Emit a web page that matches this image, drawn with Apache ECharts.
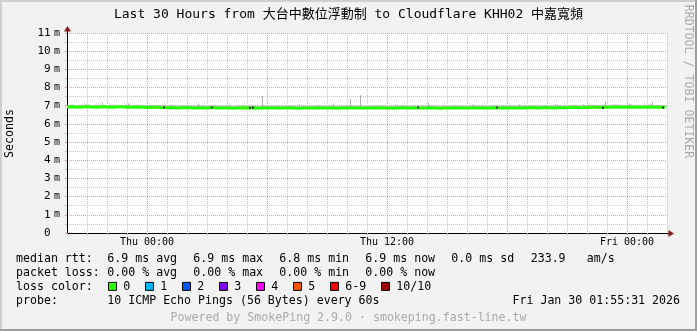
<!DOCTYPE html>
<html><head><meta charset="utf-8">
<script src="https://cdn.jsdelivr.net/npm/echarts@6/dist/echarts.min.js"></script>
<style>html,body{margin:0;padding:0;background:#f2f2f2}#c{width:697px;height:331px}</style>
</head><body><div id="c"></div>
<script>
// ---------- data ----------
const titleText = 'Last 30 Hours from 大台中數位浮動制 to Cloudflare KHH02 中嘉寬頻';
const yAxisTitle = 'Seconds';
const sideText = 'RRDTOOL / TOBI OETIKER';
const xTickLabels = { 4: 'Thu 00:00', 16: 'Thu 12:00', 28: 'Fri 00:00' };
const majorHours = [4, 10, 16, 22, 28];
const spanHours = 29.9; // data covers Wed 20:00 .. Fri 01:55

// median RTT (ms), one value per 15-minute bucket
const median = [
  6.93,6.94,6.92,6.93,6.95,6.93,6.92,6.94,6.93,6.92,
  6.93,6.94,6.92,6.91,6.93,6.92,6.90,6.92,6.91,6.90,
  6.89,6.90,6.88,6.89,6.90,6.88,6.87,6.89,6.88,6.90,
  6.88,6.87,6.89,6.86,6.88,6.89,6.87,6.88,6.86,6.88,
  6.89,6.87,6.88,6.87,6.89,6.88,6.86,6.88,6.87,6.88,
  6.89,6.87,6.88,6.88,6.86,6.88,6.89,6.87,6.88,6.87,
  6.88,6.87,6.89,6.88,6.87,6.86,6.88,6.89,6.87,6.88,
  6.88,6.87,6.89,6.88,6.86,6.88,6.87,6.89,6.88,6.87,
  6.88,6.89,6.87,6.88,6.88,6.89,6.87,6.88,6.89,6.88,
  6.89,6.88,6.90,6.89,6.88,6.90,6.89,6.88,6.90,6.89,
  6.90,6.91,6.89,6.90,6.92,6.91,6.90,6.92,6.91,6.93,
  6.92,6.91,6.93,6.92,6.91,6.92,6.93,6.91,6.92,6.91
];
// upper edge of the smoke (ms)
const smokeTop = [
  7.04,7.06,7.03,7.05,7.07,7.04,7.06,7.05,7.03,7.06,
  7.05,7.04,7.07,7.03,7.05,7.04,7.02,7.05,7.03,7.04,
  7.01,7.03,7.00,7.02,7.04,7.01,6.99,7.02,7.01,7.03,
  7.00,7.01,7.03,6.99,7.01,7.02,7.00,7.01,6.99,7.02,
  7.03,7.00,7.01,7.00,7.03,7.01,6.99,7.02,7.00,7.01,
  7.02,7.00,7.01,7.02,6.99,7.01,7.03,7.00,7.01,7.00,
  7.01,7.02,7.03,7.01,7.00,6.99,7.02,7.03,7.00,7.01,
  7.02,7.00,7.03,7.02,6.99,7.01,7.00,7.03,7.01,7.00,
  7.01,7.03,7.00,7.02,7.01,7.03,7.00,7.02,7.03,7.01,
  7.03,7.02,7.04,7.03,7.01,7.04,7.03,7.02,7.05,7.03,
  7.04,7.05,7.03,7.04,7.06,7.05,7.04,7.06,7.05,7.07,
  7.06,7.04,7.07,7.05,7.04,7.06,7.07,7.04,7.05,7.03
];
// isolated smoke spikes: [hour since start, max ms]
const spikes = [
  [1.73,7.17],[3.05,7.13],[5.2,7.08],[6.55,7.10],[8.1,7.07],[9.74,7.53],
  [11.6,7.08],[13.3,7.11],[14.15,7.38],[14.63,7.58],[16.4,7.07],[18.05,7.15],
  [20.3,7.08],[22.6,7.07],[24.4,7.10],[25.8,7.08],[26.9,7.22],[28.1,7.09],[29.23,7.20]
];
const blackDots = [[4.85,6.90],[7.24,6.90],[9.15,6.89],[9.3,6.90],[17.55,6.90],[21.5,6.90],[26.8,6.89],[29.8,6.90]];

const medianStats = ['6.9 ms avg', '6.9 ms max', '6.8 ms min', '6.9 ms now', '0.0 ms sd'];
const rateValue = '233.9';
const rateUnit = 'am/s';
const lossStats = ['0.00 % avg', '0.00 % max', '0.00 % min', '0.00 % now'];
const lossLabels = ['0', '1', '2', '3', '4', '5', '6-9', '10/10'];
const lossColors = ['#26ff00', '#00b8ff', '#0059ff', '#7e00ff', '#ff00ff', '#ff5500', '#ff0000', '#a10000'];
const probeText = '10 ICMP Echo Pings (56 Bytes) every 60s';
const stampText = 'Fri Jan 30 01:55:31 2026';
const poweredText = 'Powered by SmokePing 2.9.0 · smokeping.fast-line.tw';

// ---------- layout / style ----------
const W = 697, H = 331;
const GL = 67, GT = 33, GR = 667, GB = 233;
const MONO = '"DejaVu Sans Mono", "Noto Sans CJK TC", monospace';
const GRID_C = '#c6c6c6';
const MGRID_C = '#d4a0a0';
const TICK_C = '#b4b4b4';
const MTICK_C = '#d09a9a';

const step = spanHours / (median.length - 1);
const times = median.map((_, i) => i * step);
const lineData = median.map((v, i) => [times[i], v]);
const smokeData = median.map((v, i) => [times[i], v, smokeTop[i]]);

const chart = echarts.init(document.getElementById('c'), null, { renderer: 'canvas' });

const xSplitColors = [0,1,2,3,4,5].map(k => k === 4 ? MGRID_C : GRID_C);

function txt(x, y, text, opt) {
  return Object.assign({
    type: 'text', x, y, z: 100,
    style: Object.assign({ text, fontFamily: MONO, fontSize: 11.6, fill: '#000', align: 'left', verticalAlign: 'middle' }, opt || {})
  });
}

const graphics = [];
// frame shading
graphics.push({ type: 'rect', shape: { x: 0, y: 0, width: W, height: 2 }, style: { fill: '#cfcfcf' }, z: 100 });
graphics.push({ type: 'rect', shape: { x: 0, y: 0, width: 2, height: H }, style: { fill: '#cfcfcf' }, z: 100 });
graphics.push({ type: 'rect', shape: { x: 0, y: H - 2, width: W, height: 2 }, style: { fill: '#9e9e9e' }, z: 100 });
graphics.push({ type: 'rect', shape: { x: W - 2, y: 0, width: 2, height: H }, style: { fill: '#9e9e9e' }, z: 100 });
// title
graphics.push(txt(348.5, 15, titleText, { fontSize: 13, align: 'center' }));
// y title
graphics.push(Object.assign(txt(10, 133.5, yAxisTitle, { align: 'center' }), { rotation: Math.PI / 2 }));
// side watermark
graphics.push(Object.assign(txt(688, 81.5, sideText, { align: 'center', fill: '#a9a9a9' }), { rotation: -Math.PI / 2 }));
// axis arrows
graphics.push({ type: 'line', shape: { x1: GR, y1: GB + 0.5, x2: GR + 3, y2: GB + 0.5 }, style: { stroke: '#000', lineWidth: 1 }, z: 100 });
graphics.push({ type: 'polygon', shape: { points: [[GR + 1.5, GB - 3], [GR + 7, GB + 0.5], [GR + 1.5, GB + 4]] }, style: { fill: '#8b1a1a' }, z: 100 });
graphics.push({ type: 'line', shape: { x1: GL + 0.5, y1: GT, x2: GL + 0.5, y2: GT - 3 }, style: { stroke: '#000', lineWidth: 1 }, z: 100 });
graphics.push({ type: 'polygon', shape: { points: [[GL - 3, GT - 1.5], [GL + 0.5, GT - 7], [GL + 4, GT - 1.5]] }, style: { fill: '#8b1a1a' }, z: 100 });

// legend
const L1 = 259.3, L2 = 273.1, L3 = 286.9, L4 = 300.7, L5 = 317.7;
const colX = 107.3, colStride = 86;
graphics.push(txt(16, L1, 'median rtt:'));
medianStats.forEach((s, k) => graphics.push(txt(colX + colStride * k, L1, s)));
graphics.push(txt(530.7, L1, rateValue));
graphics.push(txt(586.7, L1, rateUnit));
graphics.push(txt(16, L2, 'packet loss:'));
lossStats.forEach((s, k) => graphics.push(txt(colX + colStride * k, L2, s)));
graphics.push(txt(16, L3, 'loss color:'));
let bx = 108.3;
lossLabels.forEach((lab, k) => {
  graphics.push({ type: 'rect', shape: { x: Math.round(bx) + 0.5, y: L3 - 4.5, width: 8, height: 8 }, style: { fill: lossColors[k], stroke: '#000', lineWidth: 1 }, z: 100 });
  graphics.push(txt(bx + 15, L3, lab));
  bx += 30 + 7 * lab.length;
});
graphics.push(txt(16, L4, 'probe:'));
graphics.push(txt(colX, L4, probeText));
graphics.push(txt(680, L4, stampText, { align: 'right' }));
graphics.push(txt(348.5, L5, poweredText, { align: 'center', fill: '#aaaaaa' }));

const option = {
  animation: false,
  backgroundColor: '#f2f2f2',
  grid: { left: GL, top: GT, width: GR - GL, height: GB - GT, show: true, backgroundColor: '#ffffff', borderWidth: 0 },
  xAxis: [
    {
      type: 'value', min: 0, max: 30, interval: 1, position: 'bottom',
      axisLine: { show: true, onZero: false, lineStyle: { color: '#000', width: 1 } },
      axisTick: { show: true, length: 2, lineStyle: { color: TICK_C } },
      axisLabel: {
        show: true, margin: 4, fontFamily: MONO, fontSize: 10, color: '#000',
        formatter: v => xTickLabels[v] || ''
      },
      splitLine: { show: true, lineStyle: { color: xSplitColors, width: 1, type: [1, 1] } }
    },
    {
      type: 'value', min: 0, max: 30, position: 'bottom',
      axisLine: { show: false },
      axisTick: { show: true, length: 2, customValues: majorHours, lineStyle: { color: MTICK_C } },
      axisLabel: { show: false },
      splitLine: { show: false }
    }
  ],
  yAxis: [
    {
      type: 'value', min: 0, max: 11, interval: 0.5, position: 'left',
      axisLine: { show: true, lineStyle: { color: '#000', width: 1 } },
      axisTick: { show: true, length: 2, lineStyle: { color: TICK_C } },
      axisLabel: { show: false },
      splitLine: { show: true, lineStyle: { color: [MGRID_C, GRID_C], width: 1, type: [1, 1] } }
    },
    {
      type: 'value', min: 0, max: 11, interval: 1, position: 'left',
      axisLine: { show: false },
      axisTick: { show: true, length: 2, lineStyle: { color: MTICK_C } },
      splitLine: { show: false },
      axisLabel: {
        show: true, margin: 7,
        formatter: v => v === 0 ? '{n|0} {h|m}' : '{n|' + v + '} {u|m}',
        rich: {
          n: { fontFamily: MONO, fontSize: 11, color: '#000', verticalAlign: 'middle' },
          u: { fontFamily: MONO, fontSize: 10, color: '#000', verticalAlign: 'middle' },
          h: { fontFamily: MONO, fontSize: 10, color: 'rgba(0,0,0,0)', verticalAlign: 'middle' }
        }
      }
    }
  ],
  series: [
    {
      type: 'custom', name: 'smoke', xAxisIndex: 0, yAxisIndex: 0, clip: true, z: 2,
      data: smokeData,
      renderItem: (params, api) => {
        const t = api.value(0), lo = api.value(1), hi = api.value(2);
        const p1 = api.coord([t - step / 2, hi]);
        const p2 = api.coord([t + step / 2, lo]);
        return { type: 'rect', shape: { x: p1[0], y: p1[1], width: p2[0] - p1[0], height: p2[1] - p1[1] }, style: { fill: '#c4c4c4' } };
      }
    },
    {
      type: 'custom', name: 'spikes', xAxisIndex: 0, yAxisIndex: 0, clip: true, z: 2,
      data: spikes,
      renderItem: (params, api) => {
        const t = api.value(0), hi = api.value(1);
        const p1 = api.coord([t, hi]);
        const p2 = api.coord([t, 6.95]);
        const x = Math.round(p1[0]) + 0.5;
        return { type: 'line', shape: { x1: x, y1: p1[1], x2: x, y2: p2[1] }, style: { stroke: '#b0b0b0', lineWidth: 1 } };
      }
    },
    {
      type: 'line', name: 'median', xAxisIndex: 0, yAxisIndex: 0, z: 3,
      data: lineData, symbol: 'none', showSymbol: false,
      lineStyle: { color: '#26ff00', width: 3 }
    },
    {
      type: 'scatter', name: 'dots', xAxisIndex: 0, yAxisIndex: 0, z: 4,
      data: blackDots, symbol: 'rect', symbolSize: 2,
      itemStyle: { color: '#000' }
    }
  ],
  graphic: graphics
};
chart.setOption(option);
</script>
</body></html>
